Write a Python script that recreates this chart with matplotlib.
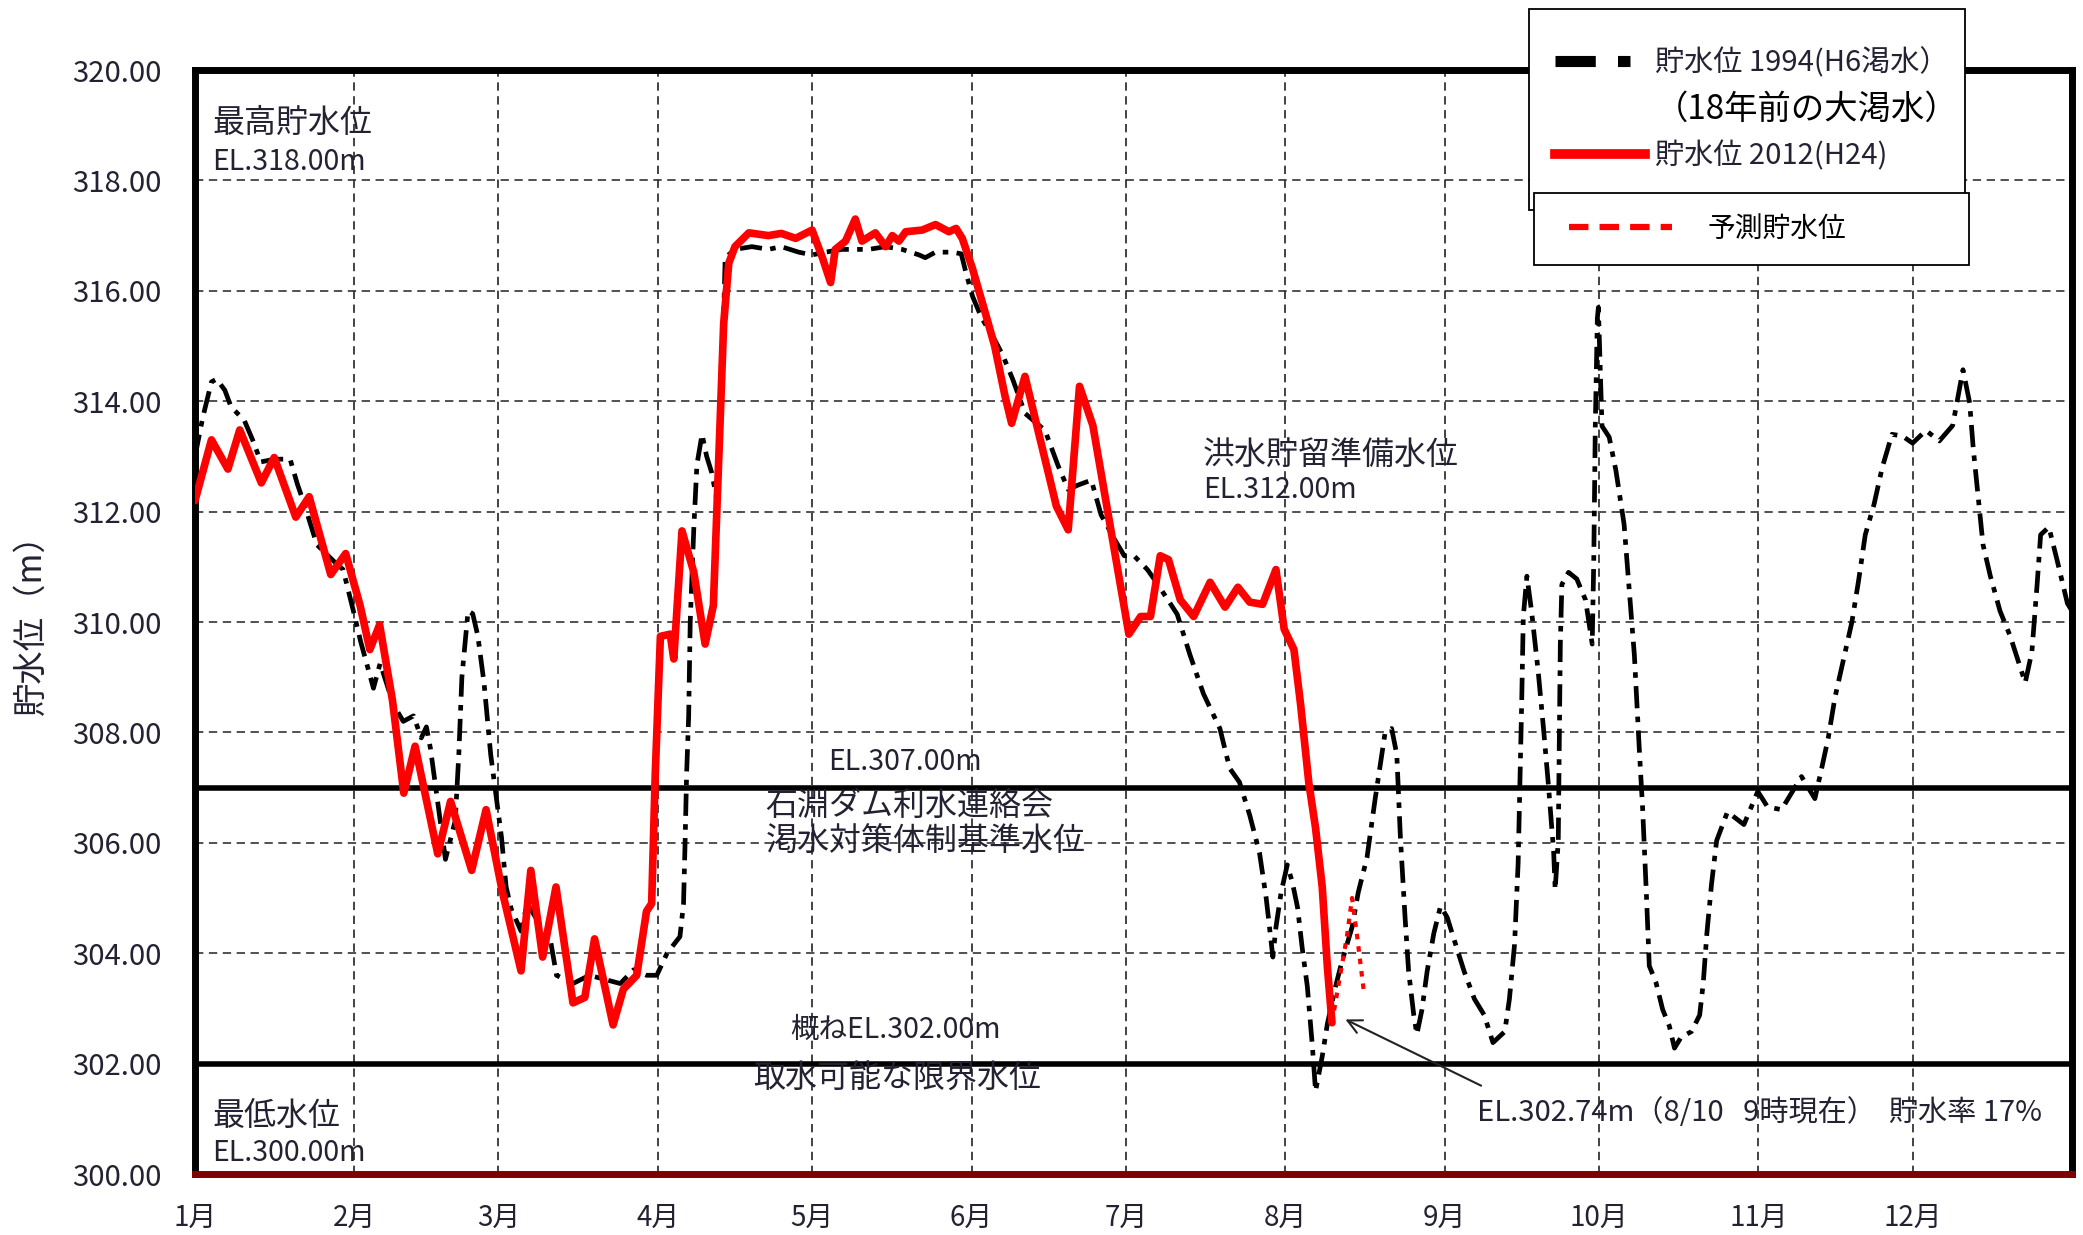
import matplotlib
matplotlib.use("Agg")
import matplotlib.pyplot as plt
from matplotlib.lines import Line2D
from matplotlib.legend_handler import HandlerLine2D

plt.rcParams['font.family'] = ['Noto Sans CJK JP', 'DejaVu Sans']
plt.rcParams['lines.scale_dashes'] = False

# ---------------- data ----------------
month_days = [0, 31, 59, 90, 120, 151, 181, 212, 243, 273, 304, 334]
month_labels = ['1月', '2月', '3月', '4月', '5月', '6月', '7月', '8月', '9月', '10月', '11月', '12月']
y_ticks = [300, 302, 304, 306, 308, 310, 312, 314, 316, 318, 320]

# 2012 (H24) reservoir level: day of year, level (m)
day_2012 = [0, 3.2, 6.4, 8.7, 12.9, 15.4, 19.6, 22.2, 26.4, 29.3, 32.1, 34.0, 35.9, 38.4, 40.6,
            42.8, 47.2, 49.7, 53.8, 56.6, 59.8, 63.4, 65.3, 67.6, 70.2, 73.5, 75.8, 77.7, 81.3,
            83.3, 85.9, 87.8, 88.8, 89.5, 90.5, 92.4, 93.1, 94.7, 97.0, 99.2, 100.8, 102.1, 102.8,
            103.8, 105.0, 107.7, 111.5, 114.0, 116.8, 120.0, 122.0, 123.6, 124.5, 126.5, 128.4,
            129.7, 132.3, 134.3, 135.6, 136.9, 138.2, 141.4, 144.0, 146.6, 148.0, 149.2, 151.2,
            153.8, 155.5, 157.5, 158.8, 161.4, 163.7, 167.5, 169.8, 172.0, 174.6, 178.1, 181.6,
            183.9, 185.8, 187.7, 189.3, 191.6, 194.2, 197.4, 200.3, 202.8, 205.1, 207.6, 210.2,
            211.8, 213.7, 215.0, 216.6, 217.9, 219.2, 220.2, 221.1]
lvl_2012 = [312.2, 313.3, 312.77, 313.48, 312.52, 312.98, 311.9, 312.27, 310.86, 311.24, 310.3,
            309.5, 309.95, 308.58, 306.9, 307.75, 305.8, 306.75, 305.5, 306.6, 305.1, 303.68,
            305.5, 303.93, 305.2, 303.1, 303.2, 304.26, 302.7, 303.35, 303.6, 304.76, 304.9,
            307.25, 309.74, 309.78, 309.33, 311.65, 310.9, 309.6, 310.3, 313.6, 315.4, 316.5,
            316.8, 317.05, 317.0, 317.04, 316.95, 317.1, 316.6, 316.15, 316.75, 316.9, 317.3,
            316.9, 317.05, 316.8, 317.0, 316.9, 317.07, 317.1, 317.2, 317.07, 317.13, 316.95,
            316.4, 315.56, 315.0, 314.1, 313.6, 314.45, 313.56, 312.1, 311.67, 314.27, 313.56,
            311.67, 309.78, 310.1, 310.1, 311.2, 311.13, 310.4, 310.1, 310.72, 310.27, 310.63,
            310.36, 310.32, 310.95, 309.87, 309.5, 308.5, 307.08, 306.27, 305.2, 303.75, 302.74]

# forecast level (予測貯水位)
day_pred = [221.1, 222.5, 224.0, 225.0, 226.0, 227.3]
lvl_pred = [302.74, 303.5, 304.3, 305.0, 304.3, 303.3]

# 1994 (H6) reservoir level
day_1994 = [0, 1.5, 3.2, 4.2, 5.8, 7.0, 9.6, 11.2, 12.8, 15.5, 18.5, 19.9, 21.2, 23.7, 27.0, 28.8,
            30.8, 32.2, 34.7, 36.0, 38.6, 40.5, 42.5, 44.0, 45.0, 45.8, 47.4, 48.7, 50.6, 51.3,
            51.9, 53.1, 54.0, 55.0, 56.2, 57.5, 58.7, 59.6, 60.5, 61.5, 63.4, 64.6, 67.2, 69.0,
            70.3, 73.5, 76.7, 82.7, 85.3, 87.8, 89.8, 91.8, 94.3, 95.0, 95.3, 95.6, 96.0, 96.3,
            97.0, 97.6, 98.6, 99.5, 100.5, 101.5, 102.5, 103.1, 105.0, 108.3, 111.5, 114.0, 117.4,
            120.0, 122.6, 125.8, 131.0, 134.3, 137.5, 140.8, 142.0, 144.0, 147.3, 149.0, 150.0,
            151.2, 153.0, 155.0, 157.0, 159.0, 161.4, 165.3, 167.8, 169.8, 171.7, 174.3, 176.2,
            178.8, 180.7, 182.6, 185.2, 187.1, 191.0, 193.5, 196.1, 199.3, 201.2, 203.1, 205.1,
            207.0, 208.3, 209.6, 210.2, 211.2, 212.4, 213.4, 214.4, 215.3, 216.3, 217.3, 217.9,
            219.2, 220.2, 221.8, 223.0, 225.0, 226.2, 227.9, 229.5, 231.4, 232.7, 233.7, 234.4,
            235.3, 236.0, 237.0, 237.6, 238.6, 239.6, 240.9, 242.2, 243.5, 244.8, 246.8, 248.8,
            250.7, 252.4, 254.7, 255.6, 256.6, 257.3, 258.0, 258.3, 259.0, 259.9, 261.2, 262.2,
            263.2, 264.2, 264.5, 265.1, 265.5, 265.8, 267.1, 268.7, 270.4, 271.7, 272.0, 272.3,
            272.7, 272.9, 273.6, 275.0, 276.3, 277.9, 278.9, 279.9, 280.9, 281.5, 282.2, 282.8,
            284.1, 285.4, 286.7, 287.7, 289.0, 291.0, 292.6, 293.3, 294.0, 294.9, 295.9, 298.0,
            301.2, 303.9, 305.8, 308.5, 312.4, 315.0, 316.3, 317.6, 318.9, 320.9, 322.2, 323.5,
            324.8, 326.5, 328.1, 330.0, 332.0, 334.0, 336.6, 339.2, 341.8, 342.8, 343.8, 345.1,
            345.8, 346.8, 347.7, 349.1, 351.0, 353.0, 354.6, 355.9, 357.2, 358.2, 358.9, 360.5,
            362.1, 364.1, 365.0]
lvl_1994 = [313.0, 313.7, 314.35, 314.4, 314.2, 313.9, 313.65, 313.3, 312.9, 312.95, 312.95, 312.5,
            312.15, 311.4, 311.1, 310.95, 310.2, 309.65, 308.8, 309.25, 308.5, 308.2, 308.3, 307.9,
            308.1, 307.7, 306.6, 305.7, 306.4, 307.6, 309.0, 310.2, 310.15, 309.75, 308.9, 307.6,
            306.75, 306.1, 305.2, 304.8, 304.4, 304.9, 304.5, 304.3, 303.6, 303.45, 303.6, 303.45,
            303.7, 303.6, 303.6, 304.0, 304.3, 304.9, 306.0, 307.25, 308.3, 310.0, 311.7, 312.85,
            313.4, 313.0, 312.7, 312.2, 314.5, 316.6, 316.75, 316.8, 316.75, 316.8, 316.7, 316.65,
            316.7, 316.75, 316.75, 316.8, 316.75, 316.65, 316.6, 316.7, 316.7, 316.67, 316.3, 315.9,
            315.5, 315.2, 314.85, 314.4, 313.78, 313.47, 312.84, 312.4, 312.48, 312.57, 311.94,
            311.5, 311.2, 311.2, 310.95, 310.7, 310.14, 309.4, 308.7, 308.07, 307.35, 307.1, 306.5,
            305.82, 305.0, 303.93, 304.47, 305.1, 305.6, 305.28, 304.83, 304.1, 303.4, 302.3, 301.5,
            302.13, 302.72, 303.4, 303.84, 304.47, 305.1, 305.73, 306.8, 307.98, 308.07, 307.6,
            306.1, 304.66, 303.67, 302.88, 302.53, 302.98, 303.67, 304.36, 304.85, 304.65, 304.26,
            303.67, 303.17, 302.88, 302.38, 302.58, 303.17, 304.16, 305.64, 308.6, 310.1, 310.83,
            310.2, 309.1, 308.1, 307.03, 305.84, 305.15, 306.04, 309.6, 310.68, 310.9, 310.78,
            310.4, 309.6, 311.1, 313.55, 315.5, 315.7, 313.55, 313.35, 312.75, 311.77, 310.58,
            309.4, 307.62, 306.63, 305.15, 303.77, 303.47, 302.98, 302.68, 302.28, 302.48, 302.58,
            302.88, 303.47, 304.36, 305.25, 306.04, 306.56, 306.33, 306.93, 306.65, 306.6, 307.2,
            306.8, 307.34, 307.9, 308.63, 309.46, 310.0, 310.75, 311.58, 312.13, 312.8, 313.4,
            313.37, 313.24, 313.47, 313.28, 313.56, 314.06, 314.57, 313.97, 313.14, 312.22, 311.4,
            310.84, 310.2, 309.74, 309.28, 308.9, 309.46, 310.66, 311.58, 311.72, 311.12, 310.34,
            310.2]

ref_levels = [307.0, 302.0]

# ---------------- figure ----------------
W, H = 2083, 1235
fig = plt.figure(figsize=(W / 100, H / 100), dpi=100)
ax = fig.add_axes([195 / W, 1 - 1174 / H, 1877 / W, 1104 / H])

txt_col = '#222233'

# grid
for d in month_days[1:]:
    ax.axvline(d, color='#222222', lw=1.2, dashes=(6, 4), zorder=1)
for yv in y_ticks[1:-1]:
    ax.axhline(yv, color='#333333', lw=1.2, dashes=(6, 4), zorder=1)

# reference thick lines
for yv in ref_levels:
    ax.axhline(yv, color='black', lw=4, zorder=2)

# data lines
ax.plot(day_1994, lvl_1994, color='black', lw=3.4, dashes=(16, 6, 4, 6), zorder=3)
ax.plot(day_2012, lvl_2012, color='#ff0000', lw=5.5, solid_joinstyle='round',
        solid_capstyle='round', zorder=4)
ax.plot(day_pred, lvl_pred, color='#ff0000', lw=3, dashes=(4, 5), zorder=4)

ax.set_xlim(0, 365)
ax.set_ylim(300, 320)
ax.set_xticks(month_days)
ax.set_xticklabels(month_labels)
ax.set_yticks(y_ticks)
ax.set_yticklabels([f'{v:.2f}' for v in y_ticks])
ax.tick_params(axis='y', length=0, pad=24, labelsize=21, labelcolor=txt_col)
ax.tick_params(axis='x', length=0, pad=21, labelsize=20, labelcolor=txt_col)

for s in ['left', 'top', 'right']:
    ax.spines[s].set_linewidth(5)
    ax.spines[s].set_color('black')
ax.spines['bottom'].set_linewidth(5)
ax.spines['bottom'].set_color('#800000')

ax.set_ylabel('貯水位（m）', fontsize=24, color=txt_col)
ax.yaxis.set_label_coords(-0.078, 0.505)

# annotations
cj = 23
el = 20.5
ax.text(3.3, 319.04, '最高貯水位', fontsize=cj, color=txt_col, va='center', ha='left')
ax.text(3.3, 318.33, 'EL.318.00m', fontsize=el, color=txt_col, va='center', ha='left')
ax.text(196.0, 313.03, '洪水貯留準備水位', fontsize=cj, color=txt_col, va='center', ha='left')
ax.text(196.0, 312.39, 'EL.312.00m', fontsize=el, color=txt_col, va='center', ha='left')
ax.text(123.1, 307.46, 'EL.307.00m', fontsize=el, color=txt_col, va='center', ha='left')
ax.text(110.9, 306.67, '石淵ダム利水連絡会', fontsize=cj, color=txt_col, va='center', ha='left')
ax.text(110.9, 306.01, '渇水対策体制基準水位', fontsize=cj, color=txt_col, va='center', ha='left')
ax.text(115.7, 302.61, '概ねEL.302.00m', fontsize=el, color=txt_col, va='center', ha='left')
ax.text(108.5, 301.72, '取水可能な限界水位', fontsize=cj, color=txt_col, va='center', ha='left')
ax.text(3.3, 301.05, '最低水位', fontsize=cj, color=txt_col, va='center', ha='left')
ax.text(3.3, 300.38, 'EL.300.00m', fontsize=el, color=txt_col, va='center', ha='left')
ax.text(249.3, 301.1, 'EL.302.74m（8/10   9時現在）  貯水率 17%', fontsize=21, color=txt_col,
        va='center', ha='left')
ax.annotate('', xy=(223.7, 302.8), xytext=(250.1, 301.6),
            arrowprops=dict(arrowstyle='->', lw=1.5, color='#222222', mutation_scale=25,
                            shrinkA=0, shrinkB=0))

# legends
fs = 21
h1 = Line2D([], [], color='black', lw=8, dashes=(29, 16, 9, 40))
h_blank = Line2D([], [], color='none', lw=0)
h2 = Line2D([], [], color='#ff0000', lw=7)
hl = HandlerLine2D(xpad=-0.45)
leg1 = ax.legend([h1, h_blank, h2],
                 ['貯水位 1994(H6渇水）', '（18年前の大渇水）', '貯水位 2012(H24)'],
                 loc='upper left',
                 bbox_to_anchor=(1529 / W, 1 - 9 / H - 0.01, 436 / W, 0.01),
                 bbox_transform=fig.transFigure, mode='expand', borderaxespad=0,
                 fontsize=fs, frameon=True, fancybox=False, framealpha=1,
                 edgecolor='black', borderpad=1.33, labelspacing=0.47,
                 handlelength=2.64, handletextpad=0.34,
                 handler_map={h1: hl, h_blank: hl, h2: hl})
leg1.get_frame().set_linewidth(1.3)
leg1.get_texts()[1].set_fontsize(24)
for i, t in enumerate(leg1.get_texts()):
    t.set_color('black' if i == 1 else txt_col)
leg1.set_zorder(10)
ax.add_artist(leg1)

h3 = Line2D([], [], color='#ff0000', lw=4.5, dashes=(14, 8))
leg2 = ax.legend([h3], ['予測貯水位'], loc='upper left',
                 bbox_to_anchor=(1534 / W, 1 - 193 / H - 0.01, 435 / W, 0.01),
                 bbox_transform=fig.transFigure, mode='expand', borderaxespad=0,
                 fontsize=20, frameon=True, fancybox=False, framealpha=1,
                 edgecolor='black', borderpad=0.75, handlelength=4.2, handletextpad=1.3,
                 handler_map={h3: HandlerLine2D(xpad=0.5)})
leg2.get_frame().set_linewidth(1.3)
leg2.get_texts()[0].set_color('black')
leg2.set_zorder(11)

fig.savefig('out.png', dpi=100)
